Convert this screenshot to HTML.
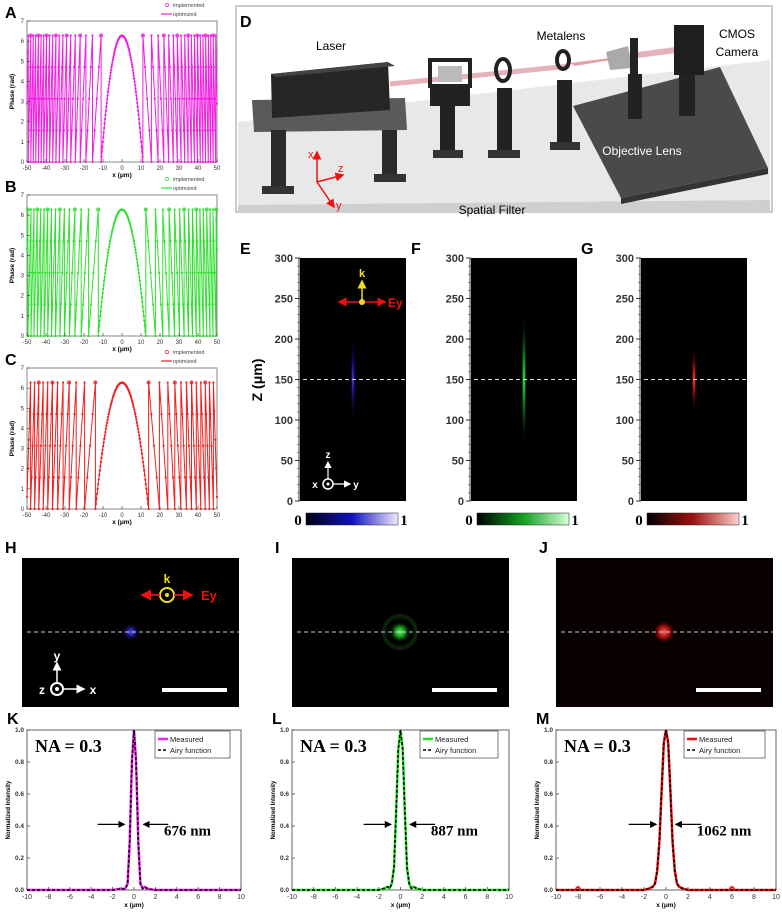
<!DOCTYPE html>
<html><head><meta charset="utf-8"><style>
html,body{margin:0;padding:0;background:#fff;}
svg{display:block;font-family:"Liberation Sans",sans-serif;}
</style></head><body>
<svg id="fig" width="782" height="915" viewBox="0 0 782 915" xmlns="http://www.w3.org/2000/svg">
<defs>
 <linearGradient id="cbBlue" x1="0" x2="1"><stop offset="0" stop-color="#000010"/><stop offset="0.5" stop-color="#1010c0"/><stop offset="1" stop-color="#f0eaff"/></linearGradient>
 <linearGradient id="cbGreen" x1="0" x2="1"><stop offset="0" stop-color="#000"/><stop offset="0.5" stop-color="#10a020"/><stop offset="1" stop-color="#d8ffd8"/></linearGradient>
 <linearGradient id="cbRed" x1="0" x2="1"><stop offset="0" stop-color="#000"/><stop offset="0.5" stop-color="#a01010"/><stop offset="1" stop-color="#ffd0d0"/></linearGradient>
 <radialGradient id="gBlue"><stop offset="0" stop-color="#6a40ff"/><stop offset="0.4" stop-color="#2010a0" stop-opacity="0.7"/><stop offset="1" stop-color="#000" stop-opacity="0"/></radialGradient>
 <radialGradient id="gGreen"><stop offset="0" stop-color="#60ff60"/><stop offset="0.4" stop-color="#10a020" stop-opacity="0.7"/><stop offset="1" stop-color="#000" stop-opacity="0"/></radialGradient>
 <radialGradient id="gRed"><stop offset="0" stop-color="#ff6060"/><stop offset="0.4" stop-color="#c01010" stop-opacity="0.7"/><stop offset="1" stop-color="#000" stop-opacity="0"/></radialGradient>
 <radialGradient id="sBlue"><stop offset="0" stop-color="#6060ff"/><stop offset="0.5" stop-color="#2020c0" stop-opacity="0.6"/><stop offset="1" stop-color="#000" stop-opacity="0"/></radialGradient>
 <radialGradient id="sGreen"><stop offset="0" stop-color="#80ff80"/><stop offset="0.5" stop-color="#10c020" stop-opacity="0.7"/><stop offset="1" stop-color="#000" stop-opacity="0"/></radialGradient>
 <radialGradient id="sRed"><stop offset="0" stop-color="#ff7070"/><stop offset="0.5" stop-color="#e01010" stop-opacity="0.7"/><stop offset="1" stop-color="#000" stop-opacity="0"/></radialGradient>
 <marker id="arW" markerWidth="6" markerHeight="6" refX="5" refY="3" orient="auto"><path d="M0,0 L6,3 L0,6 z" fill="#fff"/></marker>
 <marker id="arR" markerWidth="6" markerHeight="6" refX="5" refY="3" orient="auto"><path d="M0,0 L6,3 L0,6 z" fill="#f01010"/></marker>
 <marker id="arY" markerWidth="6" markerHeight="6" refX="5" refY="3" orient="auto"><path d="M0,0 L6,3 L0,6 z" fill="#f0e020"/></marker>
 <marker id="arK" markerWidth="6" markerHeight="6" refX="5" refY="3" orient="auto"><path d="M0,0 L6,3 L0,6 z" fill="#000"/></marker>
</defs>

<!-- Panel D setup illustration -->
<g>
 <rect x="236" y="6" width="536" height="206" fill="#fff" stroke="#bbb" stroke-width="1.5"/>
 <polygon points="238,122 770,60 770,210 238,210" fill="#e8e8e8"/>
 <polygon points="238,205 770,200 770,212 238,212" fill="#cfcfcf"/>
 <polygon points="573,106 720,67 768,168 621,198" fill="#4a4a4a"/>
 <polygon points="621,198 768,168 768,174 621,204" fill="#333"/>
 <polygon points="252,100 405,98 407,130 254,132" fill="#5a5a5a"/>
 <rect x="271" y="130" width="15" height="60" fill="#2a2a2a"/><rect x="262" y="186" width="32" height="8" fill="#333"/>
 <rect x="382" y="130" width="15" height="48" fill="#2a2a2a"/><rect x="374" y="174" width="32" height="8" fill="#333"/>
 <polygon points="271,74 388,62 390,110 272,118" fill="#262626"/>
 <polygon points="271,74 388,62 395,66 276,77" fill="#444"/>
 <line x1="390" y1="84" x2="570" y2="66" stroke="#e0a0a8" stroke-width="5" opacity="0.8"/>
 <polygon points="570,63 575,66 610,60 610,58" fill="#e0a0a8"/>
 <line x1="630" y1="56" x2="676" y2="50" stroke="#e0a0a8" stroke-width="6" opacity="0.8"/>
 <rect x="430" y="60" width="40" height="26" fill="none" stroke="#222" stroke-width="4"/>
 <rect x="438" y="66" width="24" height="16" fill="#bbb"/>
 <rect x="440" y="95" width="15" height="60" fill="#222"/><rect x="433" y="150" width="30" height="8" fill="#333"/>
 <rect x="430" y="86" width="40" height="20" fill="#222"/>
 <rect x="497" y="88" width="15" height="65" fill="#222"/><rect x="488" y="150" width="32" height="8" fill="#333"/>
 <ellipse cx="503" cy="70" rx="7" ry="11" fill="none" stroke="#222" stroke-width="4"/>
 <rect x="557" y="80" width="15" height="65" fill="#222"/><rect x="550" y="142" width="30" height="8" fill="#333"/>
 <ellipse cx="563" cy="60" rx="6" ry="9" fill="none" stroke="#222" stroke-width="4"/>
 <polygon points="606,52 628,46 632,68 610,70" fill="#aaa"/>
 <rect x="630" y="38" width="8" height="36" fill="#222"/>
 <rect x="628" y="74" width="14" height="45" fill="#222"/>
 <rect x="674" y="25" width="30" height="50" fill="#1e1e1e"/>
 <rect x="679" y="74" width="16" height="42" fill="#222"/>
 <line x1="317" y1="182" x2="317" y2="152" stroke="#f01010" stroke-width="1.5" marker-end="url(#arR)"/>
 <line x1="317" y1="182" x2="343" y2="175" stroke="#f01010" stroke-width="1.5" marker-end="url(#arR)"/>
 <line x1="317" y1="182" x2="334" y2="207" stroke="#f01010" stroke-width="1.5" marker-end="url(#arR)"/>
 <text x="308" y="158" font-size="11" fill="#f01010">x</text>
 <text x="338" y="172" font-size="11" fill="#f01010">z</text>
 <text x="336" y="209" font-size="11" fill="#f01010">y</text>
 <text x="240" y="27" font-size="16" font-weight="bold">D</text>
 <text x="331" y="50" font-size="12" text-anchor="middle">Laser</text>
 <text x="561" y="40" font-size="12" text-anchor="middle">Metalens</text>
 <text x="737" y="38" font-size="12" text-anchor="middle">CMOS</text>
 <text x="737" y="56" font-size="12" text-anchor="middle">Camera</text>
 <text x="642" y="155" font-size="12" text-anchor="middle" fill="#fff">Objective Lens</text>
 <text x="492" y="214" font-size="12" text-anchor="middle">Spatial Filter</text>
</g>
<g id="dyn"></g>
</svg>
<script>
// ---------- data ----------
const phaseXTicks = [-50,-40,-30,-20,-10,0,10,20,30,40,50];
const phaseYTicks = [0,1,2,3,4,5,6,7];
const wrapsA = [11,15.5,19,22,24.6,27,29.1,31.1,33,34.8,36.5,38.1,39.7,41.2,42.6,44,45.4,46.7,48,49.3];
const wrapsB = [12.5,17.6,21.5,24.8,27.7,30.3,32.7,35,37.1,39.1,41,42.8,44.6,46.3,47.9,49.5];
const wrapsC = [14,19.7,24.1,27.8,31,33.9,36.6,39.1,41.5,43.8,46,48.1];
const zTicks = [0,50,100,150,200,250,300];
const profXTicks = [-10,-8,-6,-4,-2,0,2,4,6,8,10];
const profYTicks = [0,0.2,0.4,0.6,0.8,1.0];
const profX = [-10,-2,-1.5,-1.2,-1,-0.8,-0.6,-0.4,-0.2,0,0.2,0.4,0.6,0.8,1,1.2,1.5,2,10];
const profK = [0,0,0.005,0.01,0.005,0.01,0.04,0.3,0.8,1,0.8,0.3,0.04,0.01,0.02,0.01,0.005,0,0];
const profL = [0,0,0.01,0.02,0.01,0.04,0.14,0.5,0.88,1,0.88,0.5,0.14,0.04,0.01,0.02,0.01,0,0];
const profM = [0,0,0.01,0.02,0.04,0.12,0.3,0.62,0.92,1,0.92,0.62,0.3,0.12,0.04,0.02,0.01,0,0];
const bumpsM = [[-8,0.015],[6,0.015]];

// ---------- helpers ----------
const NS='http://www.w3.org/2000/svg';
const root=document.getElementById('dyn');
function mk(tag,attrs,parent){const e=document.createElementNS(NS,tag);for(const k in attrs)e.setAttribute(k,attrs[k]);(parent||root).appendChild(e);return e;}
function txt(s,attrs,parent){const e=mk('text',attrs,parent);e.textContent=s;return e;}
function lin(d0,d1,r0,r1){return v=>r0+(v-d0)/(d1-d0)*(r1-r0);}

// ---------- phase plots ----------
function phasePlot(id,label,box,wraps,color,legendColorName){
 const g=mk('g',{});
 
 
 const X=lin(-50,50,box.x0,box.x1), Y=lin(0,7,box.y1,box.y0);
 mk('rect',{x:box.x0,y:box.y0,width:box.x1-box.x0,height:box.y1-box.y0,fill:'#fff',stroke:'#888','stroke-width':1},g);
 // build positive side
 const pos=[];
 const w0=wraps[0];
 for(let i=0;i<=12;i++){const x=w0*i/12;pos.push([x,6.28*(1-(x/w0)*(x/w0))]);}
 for(let k=0;k<wraps.length;k++){
  const a=wraps[k];
  pos.push([a,6.28]);
  if(k+1<wraps.length){pos.push([wraps[k+1],0]);}
  else{const prev=wraps[k]-wraps[k-1];const frac=Math.min(1,(50-a)/prev);pos.push([50,6.28*(1-frac)]);}
 }
 const neg=pos.slice(1).map(p=>[-p[0],p[1]]).reverse();
 const pts=neg.concat(pos);
 const path=mk('path',{d:'M'+pts.map(p=>X(p[0]).toFixed(1)+','+Y(p[1]).toFixed(1)).join('L'),fill:'none',stroke:color,'stroke-width':1},g);
 
 
 // markers
 for(let i=0;i<pts.length-1;i++){
  const [xa,ya]=pts[i],[xb,yb]=pts[i+1];
  if(Math.abs(xa-xb)<0.01)continue;
  for(let t=0;t<=1.0001;t+=0.25){
   const c=mk('circle',{cx:X(xa+(xb-xa)*t),cy:Y(ya+(yb-ya)*t),r:1.1,fill:color},g);
  }
 }
 for(let k=0;k<wraps.length;k+=3){
  [wraps[k],-wraps[k]].forEach(w=>mk('circle',{cx:X(w),cy:Y(6.28),r:1.6,fill:'none',stroke:color,'stroke-width':0.7},g));
 }
 // axes
 phaseXTicks.forEach(t=>{mk('line',{x1:X(t),x2:X(t),y1:box.y1,y2:box.y1-3,stroke:'#333','stroke-width':0.6},g);
  txt(String(t),{x:X(t),y:box.y1+8,'font-size':6,'text-anchor':'middle',fill:'#333'},g);});
 phaseYTicks.forEach(t=>{mk('line',{x1:box.x0,x2:box.x0+3,y1:Y(t),y2:Y(t),stroke:'#333','stroke-width':0.6},g);
  txt(String(t),{x:box.x0-3,y:Y(t)+2,'font-size':6,'text-anchor':'end',fill:'#333'},g);});
 txt('x (μm)',{x:(box.x0+box.x1)/2,y:box.y1+15,'font-size':6.5,'font-weight':'bold','text-anchor':'middle'},g);
 txt('Phase (rad)',{x:0,y:0,'font-size':6.5,'font-weight':'bold','text-anchor':'middle',transform:`translate(${box.x0-13},${(box.y0+box.y1)/2}) rotate(-90)`},g);
 txt(label,{x:5,y:box.y0-3,'font-size':16,'font-weight':'bold'},g);
 // legend
 const lg=mk('g',{},g);
 
 
 mk('circle',{cx:box.x1-50,cy:box.y0-16,r:1.6,fill:'none',stroke:color,'stroke-width':0.7},lg);
 txt('implemented',{x:box.x1-44,y:box.y0-14,'font-size':5.5,fill:'#444'},lg);
 mk('line',{x1:box.x1-56,x2:box.x1-45,y1:box.y0-7,y2:box.y0-7,stroke:color,'stroke-width':1.2},lg);
 txt('optimized',{x:box.x1-44,y:box.y0-5,'font-size':5.5,fill:'#444'},lg);
}
phasePlot('a','A',{x0:27,x1:217,y0:21,y1:162},wrapsA,'#f020e0');
phasePlot('b','B',{x0:27,x1:217,y0:195,y1:336},wrapsB,'#30e030');
phasePlot('c','C',{x0:27,x1:217,y0:368,y1:509},wrapsC,'#f02020');

// ---------- z-propagation maps ----------
function zPanel(id,label,x0,grad,cb){
 const g=mk('g',{});
 
 
 const y0=258,y1=501,w=106;
 const Y=lin(0,300,y1,y0);
 mk('rect',{x:x0,y:y0,width:w,height:y1-y0,fill:'#000'},g);
 mk('ellipse',{cx:x0+w/2,cy:Y(150),rx:3,ry:id==='f'?70:(id==='e'?45:35),fill:'url(#'+grad+')'},g);
 mk('line',{x1:x0+3,x2:x0+w,y1:Y(150),y2:Y(150),stroke:'#ddd','stroke-width':1,'stroke-dasharray':'4,3'},g);
 zTicks.forEach(t=>{mk('line',{x1:x0-5,x2:x0,y1:Y(t),y2:Y(t),stroke:'#333','stroke-width':1},g);
  txt(String(t),{x:x0-7,y:Y(t)+4,'font-size':11,'font-weight':'bold','text-anchor':'end',fill:'#333'},g);});
 for(let t=10;t<300;t+=10){if(t%50)mk('line',{x1:x0-3,x2:x0,y1:Y(t),y2:Y(t),stroke:'#555','stroke-width':0.6},g);}
 mk('line',{x1:x0-1,x2:x0-1,y1:y0,y2:y1,stroke:'#333','stroke-width':1},g);
 const c=mk('rect',{x:x0+6,y:513,width:92,height:12,fill:'url(#'+cb+')',stroke:'#222','stroke-width':0.5},g);
 
 
 txt('0',{x:x0-2,y:525,'font-size':15,'font-family':'Liberation Serif','font-weight':'bold','text-anchor':'middle'},g);
 txt('1',{x:x0+104,y:525,'font-size':15,'font-family':'Liberation Serif','font-weight':'bold','text-anchor':'middle'},g);
 txt(label,{x:x0-60,y:254,'font-size':16,'font-weight':'bold'},g);
 return g;
}
const ge=zPanel('e','E',300,'gBlue','cbBlue');
zPanel('f','F',471,'gGreen','cbGreen');
zPanel('g','G',641,'gRed','cbRed');
txt('Z (μm)',{x:0,y:0,'font-size':14,'font-weight':'bold','text-anchor':'middle',transform:'translate(262,380) rotate(-90)'},ge);
// E annotations
mk('line',{x1:362,x2:362,y1:302,y2:281,stroke:'#f0e020','stroke-width':1.5,'marker-end':'url(#arY)'},ge);
mk('line',{x1:362,x2:385,y1:302,y2:302,stroke:'#f01010','stroke-width':1.5,'marker-end':'url(#arR)'},ge);
mk('line',{x1:362,x2:339,y1:302,y2:302,stroke:'#f01010','stroke-width':1.5,'marker-end':'url(#arR)'},ge);
mk('circle',{cx:362,cy:302,r:3,fill:'#f0e020'},ge);
txt('k',{x:362,y:277,'font-size':11,'font-weight':'bold','fill':'#f0e020','text-anchor':'middle'},ge);
txt('Ey',{x:388,y:307,'font-size':12,'font-weight':'bold','fill':'#f01010'},ge);
mk('circle',{cx:328,cy:484,r:5,fill:'none',stroke:'#fff','stroke-width':1.5},ge);
mk('circle',{cx:328,cy:484,r:1.5,fill:'#fff'},ge);
mk('line',{x1:328,x2:328,y1:479,y2:462,stroke:'#fff','stroke-width':1.2,'marker-end':'url(#arW)'},ge);
mk('line',{x1:333,x2:350,y1:484,y2:484,stroke:'#fff','stroke-width':1.2,'marker-end':'url(#arW)'},ge);
txt('z',{x:328,y:458,'font-size':10,'font-weight':'bold',fill:'#fff','text-anchor':'middle'},ge);
txt('x',{x:315,y:488,'font-size':10,'font-weight':'bold',fill:'#fff','text-anchor':'middle'},ge);
txt('y',{x:356,y:488,'font-size':10,'font-weight':'bold',fill:'#fff','text-anchor':'middle'},ge);

// ---------- focal spots ----------
function spotPanel(id,label,x0,spotX,grad,r){
 const g=mk('g',{});
 
 
 mk('rect',{x:x0,y:558,width:217,height:149,fill:id==='j'?'#080000':'#000'},g);
 if(id==='i')mk('circle',{cx:spotX,cy:632,r:16,fill:'none',stroke:'#0a300a','stroke-width':4,opacity:0.7},g);
 mk('circle',{cx:spotX,cy:632,r:r,fill:'url(#'+grad+')'},g);
 mk('line',{x1:x0+5,x2:x0+217,y1:632,y2:632,stroke:'#ccc','stroke-width':1,'stroke-dasharray':'4,3'},g);
 const sb=mk('rect',{x:x0+140,y:688,width:65,height:4,fill:'#fff'},g);
 
 
 txt(label,{x:x0-17,y:553,'font-size':16,'font-weight':'bold'},g);
 return g;
}
const gh=spotPanel('h','H',22,131,'sBlue',9);
spotPanel('i','I',292,400,'sGreen',11);
spotPanel('j','J',556,664,'sRed',12);
mk('circle',{cx:167,cy:595,r:7,fill:'none',stroke:'#f0e020','stroke-width':2},gh);
mk('circle',{cx:167,cy:595,r:2,fill:'#f0e020'},gh);
mk('line',{x1:174,x2:192,y1:595,y2:595,stroke:'#f01010','stroke-width':1.8,'marker-end':'url(#arR)'},gh);
mk('line',{x1:160,x2:142,y1:595,y2:595,stroke:'#f01010','stroke-width':1.8,'marker-end':'url(#arR)'},gh);
txt('k',{x:167,y:583,'font-size':12,'font-weight':'bold',fill:'#f0e020','text-anchor':'middle'},gh);
txt('Ey',{x:201,y:600,'font-size':13,'font-weight':'bold',fill:'#f01010'},gh);
mk('circle',{cx:57,cy:689,r:6,fill:'none',stroke:'#fff','stroke-width':2},gh);
mk('circle',{cx:57,cy:689,r:2,fill:'#fff'},gh);
mk('line',{x1:57,x2:57,y1:682,y2:663,stroke:'#fff','stroke-width':1.5,'marker-end':'url(#arW)'},gh);
mk('line',{x1:64,x2:84,y1:689,y2:689,stroke:'#fff','stroke-width':1.5,'marker-end':'url(#arW)'},gh);
txt('y',{x:57,y:660,'font-size':12,'font-weight':'bold',fill:'#fff','text-anchor':'middle'},gh);
txt('z',{x:42,y:694,'font-size':12,'font-weight':'bold',fill:'#fff','text-anchor':'middle'},gh);
txt('x',{x:93,y:694,'font-size':12,'font-weight':'bold',fill:'#fff','text-anchor':'middle'},gh);

// ---------- intensity profiles ----------
function profPlot(id,label,x0,x1,vals,color,fwhm){
 const g=mk('g',{});
 
 
 const y0=730,y1=890;
 const X=lin(-10,10,x0,x1),Y=lin(0,1,y1,y0);
 mk('rect',{x:x0,y:y0,width:x1-x0,height:y1-y0,fill:'#fff',stroke:'#666','stroke-width':1},g);
 profXTicks.forEach(t=>{mk('line',{x1:X(t),x2:X(t),y1:y1,y2:y1-3,stroke:'#333','stroke-width':0.7},g);
  txt(String(t),{x:X(t),y:y1+9,'font-size':7,'text-anchor':'middle',fill:'#333'},g);});
 profYTicks.forEach(t=>{mk('line',{x1:x0,x2:x0+3,y1:Y(t),y2:Y(t),stroke:'#333','stroke-width':0.7},g);
  txt(t.toFixed(1),{x:x0-3,y:Y(t)+2,'font-size':6.5,'text-anchor':'end',fill:'#333','font-weight':'bold'},g);});
 txt('x (μm)',{x:(x0+x1)/2,y:y1+17,'font-size':6.5,'font-weight':'bold','text-anchor':'middle'},g);
 txt('Normalized Intensity',{x:0,y:0,'font-size':6,'font-weight':'bold','text-anchor':'middle',transform:`translate(${x0-17},${(y0+y1)/2}) rotate(-90)`},g);
 const d='M'+profX.map((x,i)=>X(x).toFixed(1)+','+Y(vals[i]).toFixed(1)).join('L');
 const m=mk('path',{d:d,fill:'none',stroke:color,'stroke-width':2.5},g);
 
 
 const a=mk('path',{d:d,fill:'none',stroke:'#000','stroke-width':1.5,'stroke-dasharray':'3,2'},g);
 
 
 if(id==='m')bumpsM.forEach(b=>mk('path',{d:`M${X(b[0]-0.25)},${Y(0)}Q${X(b[0])},${Y(b[1])-4} ${X(b[0]+0.25)},${Y(0)}`,fill:'none',stroke:color,'stroke-width':1.5},g));
 txt('NA = 0.3',{x:x0+8,y:y0+22,'font-size':18,'font-weight':'bold','font-family':'Liberation Serif'},g);
 const lg=mk('g',{},g);
 
 
 const lx=x0+128;
 mk('rect',{x:lx,y:y0+1,width:x1-lx-11,height:27,fill:'#fff',stroke:'#444','stroke-width':0.7},lg);
 mk('line',{x1:lx+3,x2:lx+13,y1:y0+9,y2:y0+9,stroke:color,'stroke-width':2.5},lg);
 txt('Measured',{x:lx+15,y:y0+12,'font-size':7.5,fill:'#222'},lg);
 mk('line',{x1:lx+3,x2:lx+13,y1:y0+20,y2:y0+20,stroke:'#000','stroke-width':1.6,'stroke-dasharray':'3,2'},lg);
 txt('Airy function',{x:lx+15,y:y0+23,'font-size':7.5,fill:'#222'},lg);
 const ay=Y(0.41);
 mk('line',{x1:X(-3.4),x2:X(-0.9),y1:ay,y2:ay,stroke:'#000','stroke-width':1.2,'marker-end':'url(#arK)'},g);
 mk('line',{x1:X(3.2),x2:X(0.9),y1:ay,y2:ay,stroke:'#000','stroke-width':1.2,'marker-end':'url(#arK)'},g);
 txt(fwhm,{x:X(2.8),y:Y(0.34),'font-size':15,'font-weight':'bold','font-family':'Liberation Serif'},g);
 txt(label,{x:x0-20,y:y0-6,'font-size':16,'font-weight':'bold'},g);
}
profPlot('k','K',27,241,profK,'#f020f0','676 nm');
profPlot('l','L',292,509,profL,'#20e020','887 nm');
profPlot('m','M',556,776,profM,'#f01010','1062 nm');
</script>
</body></html>
